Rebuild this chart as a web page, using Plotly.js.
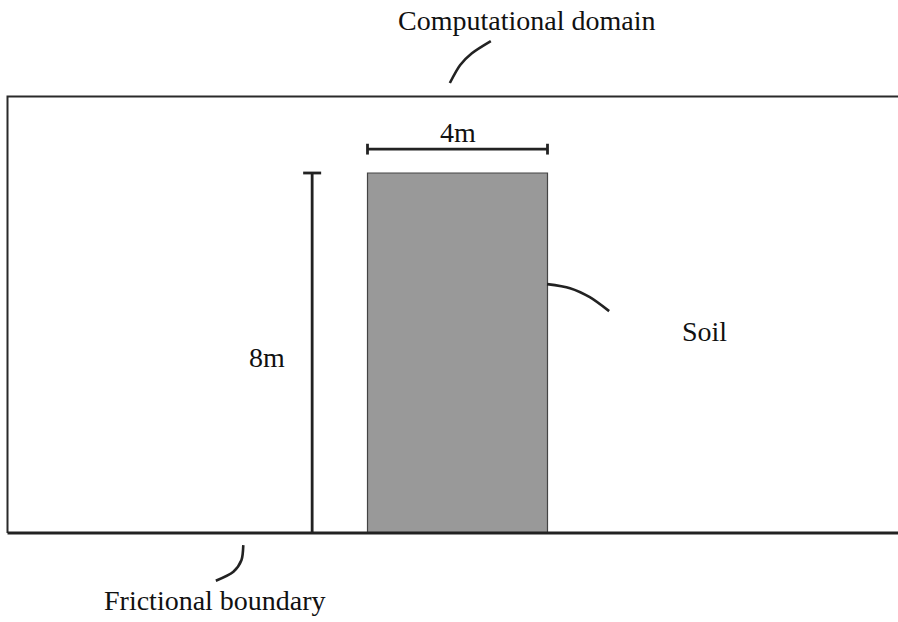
<!DOCTYPE html>
<html>
<head>
<meta charset="utf-8">
<script src="https://cdn.plot.ly/plotly-3.0.1.min.js"></script>
<style>html,body{margin:0;padding:0;background:#fff;}#chart{width:898px;height:622px;}</style>
</head>
<body>
<div id="chart"></div>
<script>
// Geometry in metres
const domainX = [20, 0, 0, 20];          // computational domain outline (open at right)
const domainY = [9.7, 9.7, 0, 0];
const soilX = [8, 12, 12, 8, 8];          // soil column 4m x 8m
const soilY = [0, 0, 8, 8, 0];
const widthDimX = [8, 12];                // "4m" dimension
const widthDimY = [8.53, 8.53];
const heightDimX = [6.77, 6.77];          // "8m" dimension
const heightDimY = [0, 8];
const leaderDomainX = [9.83, 10.06, 10.32, 10.74];
const leaderDomainY = [10.0, 10.4, 10.66, 10.93];
const leaderSoilX = [11.99, 12.5, 12.94, 13.37];
const leaderSoilY = [5.53, 5.44, 5.24, 4.93];
const leaderFrictionX = [5.24, 5.2, 5.02, 4.63];
const leaderFrictionY = [-0.27, -0.6, -0.86, -1.06];
const labels = ["Computational domain", "Soil", "Frictional boundary", "4m", "8m"];
const labelX = [11.54, 15.48, 4.61, 10.0, 5.77];
const labelY = [11.4, 4.47, -1.51, 8.89, 3.91];

const ink = '#222222';
const traces = [];
traces.push({x: soilX, y: soilY, mode: 'lines', fill: 'toself', fillcolor: '#999999',
  line: {color: '#444444', width: 1.2}, hoverinfo: 'skip'});
traces.push({x: domainX.slice(0, 3), y: domainY.slice(0, 3), mode: 'lines',
  line: {color: '#2a2a2a', width: 2}, hoverinfo: 'skip'});
traces.push({x: domainX.slice(2), y: domainY.slice(2), mode: 'lines',
  line: {color: ink, width: 3.2}, hoverinfo: 'skip'});
traces.push({x: widthDimX, y: widthDimY, mode: 'lines', line: {color: ink, width: 2.8}, hoverinfo: 'skip'});
const tk = 0.12;
traces.push({x: [widthDimX[0], widthDimX[0], null, widthDimX[1], widthDimX[1]],
  y: [widthDimY[0] - tk, widthDimY[0] + tk, null, widthDimY[1] - tk, widthDimY[1] + tk],
  mode: 'lines', line: {color: ink, width: 2.8}, hoverinfo: 'skip'});
traces.push({x: heightDimX, y: heightDimY, mode: 'lines', line: {color: ink, width: 2.8}, hoverinfo: 'skip'});
traces.push({x: [heightDimX[1] - 0.2, heightDimX[1] + 0.2], y: [heightDimY[1], heightDimY[1]],
  mode: 'lines', line: {color: ink, width: 2.8}, hoverinfo: 'skip'});
[[leaderDomainX, leaderDomainY], [leaderSoilX, leaderSoilY], [leaderFrictionX, leaderFrictionY]].forEach(function (p) {
  traces.push({x: p[0], y: p[1], mode: 'lines', line: {color: ink, width: 2.6, shape: 'spline', smoothing: 0.8}, hoverinfo: 'skip'});
});

const annotations = labels.map(function (t, i) {
  return {x: labelX[i], y: labelY[i], xref: 'x', yref: 'y', text: t, showarrow: false,
    xanchor: 'center', yanchor: 'middle',
    font: {family: "'Liberation Serif', 'Times New Roman', Times, serif", size: 28, color: '#111111'}};
});

const layout = {
  width: 898, height: 622,
  margin: {l: 0, r: 0, t: 0, b: 0, pad: 0},
  paper_bgcolor: '#ffffff', plot_bgcolor: '#ffffff',
  showlegend: false,
  font: {family: "'Liberation Serif', serif"},
  xaxis: {range: [-7.5 / 45, 890.5 / 45], visible: false, fixedrange: true},
  yaxis: {range: [-89 / 45, 533 / 45], visible: false, fixedrange: true},
  annotations: annotations
};
Plotly.newPlot('chart', traces, layout, {staticPlot: true});
</script>
</body>
</html>
